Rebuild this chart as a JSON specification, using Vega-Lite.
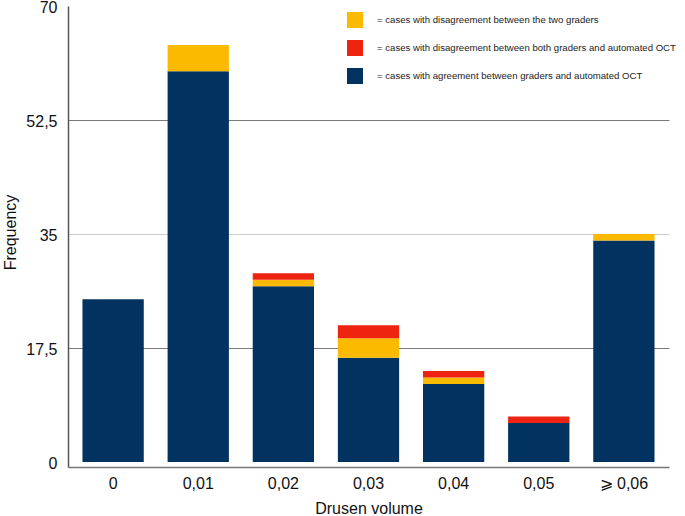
{
  "$schema": "https://vega.github.io/schema/vega-lite/v6.json",
  "autosize": "none",
  "padding": {"left": 68, "top": 6, "right": 16, "bottom": 49},
  "width": 601,
  "height": 461,
  "background": "white",
  "config": {
    "font": "Liberation Sans",
    "view": {"stroke": null}
  },
  "data": {
    "values": [
      {"vol": "0", "type": "= cases with agreement between graders and automated OCT", "order": 1, "count": 25},
      {"vol": "0,01", "type": "= cases with agreement between graders and automated OCT", "order": 1, "count": 60},
      {"vol": "0,01", "type": "= cases with disagreement between the two graders", "order": 2, "count": 4},
      {"vol": "0,02", "type": "= cases with agreement between graders and automated OCT", "order": 1, "count": 27},
      {"vol": "0,02", "type": "= cases with disagreement between the two graders", "order": 2, "count": 1},
      {"vol": "0,02", "type": "= cases with disagreement between both graders and automated OCT", "order": 3, "count": 1},
      {"vol": "0,03", "type": "= cases with agreement between graders and automated OCT", "order": 1, "count": 16},
      {"vol": "0,03", "type": "= cases with disagreement between the two graders", "order": 2, "count": 3},
      {"vol": "0,03", "type": "= cases with disagreement between both graders and automated OCT", "order": 3, "count": 2},
      {"vol": "0,04", "type": "= cases with agreement between graders and automated OCT", "order": 1, "count": 12},
      {"vol": "0,04", "type": "= cases with disagreement between the two graders", "order": 2, "count": 1},
      {"vol": "0,04", "type": "= cases with disagreement between both graders and automated OCT", "order": 3, "count": 1},
      {"vol": "0,05", "type": "= cases with agreement between graders and automated OCT", "order": 1, "count": 6},
      {"vol": "0,05", "type": "= cases with disagreement between both graders and automated OCT", "order": 3, "count": 1},
      {"vol": "⩾ 0,06", "type": "= cases with agreement between graders and automated OCT", "order": 1, "count": 34},
      {"vol": "⩾ 0,06", "type": "= cases with disagreement between the two graders", "order": 2, "count": 1}
    ]
  },
  "mark": {"type": "bar"},
  "encoding": {
    "x": {
      "field": "vol",
      "type": "nominal",
      "scale": {"domain": ["0", "0,01", "0,02", "0,03", "0,04", "0,05", "⩾ 0,06"], "paddingInner": 0.28, "paddingOuter": 0.17},
      "axis": {
        "title": "Drusen volume",
        "labelAngle": 0,
        "labelFontSize": 16,
        "labelColor": "#111",
        "labelPadding": 8,
        "ticks": false,
        "domainColor": "#777",
        "domainWidth": 1.5,
        "titleFontSize": 16,
        "titleFontWeight": "normal",
        "titleColor": "#111",
        "titleY": 41,
        "titleBaseline": "middle"
      }
    },
    "y": {
      "field": "count",
      "type": "quantitative",
      "stack": "zero",
      "scale": {"domain": [-0.75, 70], "nice": false, "zero": false},
      "axis": {
        "title": "Frequency",
        "values": [0, 17.5, 35, 52.5, 70],
        "format": ".1~f",
        "labelExpr": "replace(datum.label, '.', ',')",
        "labelFontSize": 16,
        "labelColor": "#111",
        "labelPadding": 11,
        "labelOffset": 1.5,
        "ticks": false,
        "domainColor": "#555",
        "domainWidth": 1.5,
        "grid": true,
        "gridColor": {"condition": {"test": "datum.value === 35", "value": "#cccccc"}, "value": "#7a7a7a"},
        "gridOpacity": {"condition": {"test": "datum.value === 0 || datum.value === 70", "value": 0}, "value": 1},
        "gridWidth": 1,
        "titleFontSize": 16,
        "titleFontWeight": "normal",
        "titleColor": "#111",
        "titleAngle": -90,
        "titleX": -58,
        "titleY": 226,
        "titleBaseline": "middle"
      }
    },
    "color": {
      "field": "type",
      "type": "nominal",
      "scale": {
        "domain": [
          "= cases with disagreement between the two graders",
          "= cases with disagreement between both graders and automated OCT",
          "= cases with agreement between graders and automated OCT"
        ],
        "range": ["#FBBA00", "#EE2310", "#02325F"]
      },
      "legend": {
        "title": null,
        "orient": "none",
        "legendX": 279,
        "legendY": 6,
        "padding": 0,
        "symbolType": "square",
        "symbolSize": 256,
        "symbolStrokeWidth": 0,
        "symbolOpacity": 1,
        "labelFontSize": 9.6,
        "labelColor": "#222",
        "labelOffset": 14,
        "labelLimit": 400,
        "rowPadding": 12
      }
    },
    "order": {"field": "order", "type": "quantitative", "sort": "ascending"}
  }
}
